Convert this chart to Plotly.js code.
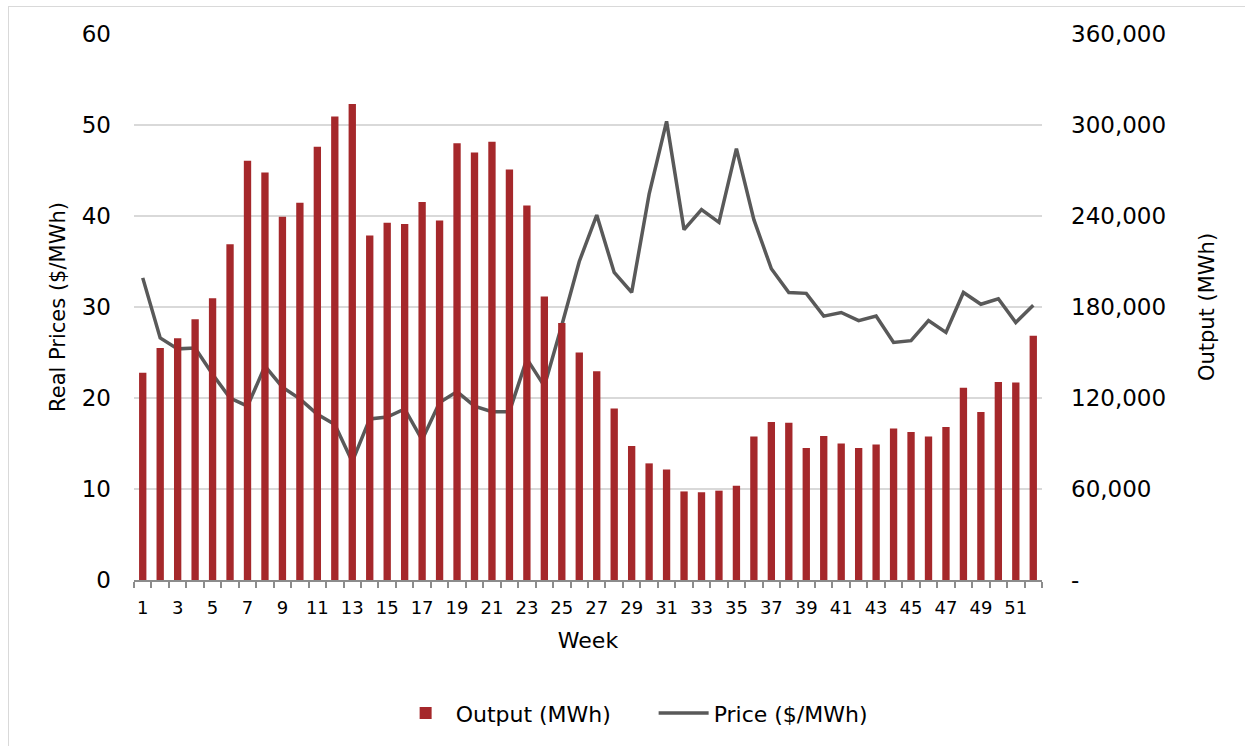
<!DOCTYPE html>
<html>
<head>
<meta charset="utf-8">
<script src="https://cdn.plot.ly/plotly-3.0.1.min.js"></script>
<style>
  html, body { margin: 0; padding: 0; background: #ffffff; }
  #frame { position: absolute; left: 8px; top: 6px; width: 1300px; height: 800px;
           border-left: 1px solid #d9d9d9; border-top: 1px solid #d9d9d9; pointer-events: none; }
  #chart { position: absolute; left: 0; top: 0; width: 1245px; height: 746px; }
</style>
</head>
<body>
<div id="chart"></div>
<div id="frame"></div>
<script>
// Week numbers
const weeks = [1,2,3,4,5,6,7,8,9,10,11,12,13,14,15,16,17,18,19,20,21,22,23,24,25,26,
               27,28,29,30,31,32,33,34,35,36,37,38,39,40,41,42,43,44,45,46,47,48,49,50,51,52];

// Weekly output (MWh), right axis
const outputMWh = [136600,153000,159400,172000,185700,221300,276500,268600,239500,248700,
                   285600,305600,313900,227100,235500,234700,249200,237000,287900,281800,
                   288900,270700,246900,186900,169500,150000,137600,113100,88300,76900,
                   72900,58400,57900,58900,62200,94600,104200,103700,87000,94900,
                   90000,87000,89300,99900,97600,94600,100900,126700,110800,130500,
                   130300,161100];

// Weekly real price ($/MWh), left axis
const priceUSD = [33.2,26.6,25.4,25.5,22.6,20.0,19.1,23.5,21.2,19.9,
                  18.2,17.1,13.0,17.7,17.9,18.8,15.4,19.5,20.7,19.1,
                  18.5,18.5,24.3,21.3,28.0,35.0,40.1,33.8,31.6,42.4,
                  50.4,38.5,40.7,39.3,47.4,39.6,34.2,31.6,31.5,29.0,
                  29.4,28.5,29.0,26.1,26.3,28.5,27.2,31.6,30.3,30.9,
                  28.3,30.2];

// Axis ticks
const leftTicks = [0,10,20,30,40,50,60];
const rightTicks = [0,60000,120000,180000,240000,300000,360000];
const rightTickText = rightTicks.map(v => v === 0 ? '-' : v.toLocaleString('en-US'));
const weekTickVals = weeks.filter(w => w % 2 === 1);

const FONT = 'DejaVu Sans, Verdana, sans-serif';

const traces = [
  {
    type: 'bar', name: 'Output (MWh)', x: weeks, y: outputMWh, yaxis: 'y2',
    marker: { color: '#a5282b' }
  },
  {
    type: 'scatter', mode: 'lines', name: 'Price ($/MWh)', x: weeks, y: priceUSD,
    line: { color: '#595959', width: 3.5 }
  }
];

const layout = {
  width: 1245, height: 746,
  margin: { l: 134, r: 203, t: 34, b: 166 },
  paper_bgcolor: 'rgba(0,0,0,0)', plot_bgcolor: 'rgba(0,0,0,0)',
  font: { family: FONT, color: '#000000' },
  bargap: 0.58,
  showlegend: true,
  legend: {
    orientation: 'h', x: 0.525, xref: 'container', xanchor: 'center',
    y: 0.044, yref: 'container', yanchor: 'middle',
    font: { size: 22, family: FONT }, traceorder: 'normal',
    itemwidth: 50, entrywidth: 193
  },
  xaxis: {
    range: [0.5, 52.5], tickmode: 'array', tickvals: weekTickVals,
    ticktext: weekTickVals.map(String), ticks: '',
    tickfont: { size: 18, family: FONT }, ticklabelstandoff: 10,
    showgrid: false, zeroline: false,
    showline: true, linecolor: '#8c8c8c', linewidth: 2,
    minor: { tickmode: 'linear', tick0: 0.5, dtick: 1, ticks: 'outside',
             ticklen: 6, tickwidth: 2, tickcolor: '#8c8c8c', showgrid: false },
    title: { text: 'Week', font: { size: 22, family: FONT }, standoff: 16 }
  },
  yaxis: {
    range: [0, 60], tickmode: 'array', tickvals: leftTicks,
    tickfont: { size: 23, family: FONT }, ticklabelstandoff: 22,
    showgrid: true, gridcolor: '#d9d9d9', gridwidth: 2, zeroline: false,
    showline: false,
    title: { text: 'Real Prices ($/MWh)', font: { size: 21, family: FONT }, standoff: 10 }
  },
  yaxis2: {
    range: [0, 360000], overlaying: 'y', side: 'right',
    tickmode: 'array', tickvals: rightTicks, ticktext: rightTickText,
    tickfont: { size: 23, family: FONT }, ticklabelstandoff: 28,
    showgrid: false, zeroline: false, showline: false,
    title: { text: 'Output (MWh)', font: { size: 21, family: FONT }, standoff: 34 }
  }
};

Plotly.newPlot('chart', [traces[0], traces[1]], layout, { displayModeBar: false, staticPlot: true });
</script>
</body>
</html>
